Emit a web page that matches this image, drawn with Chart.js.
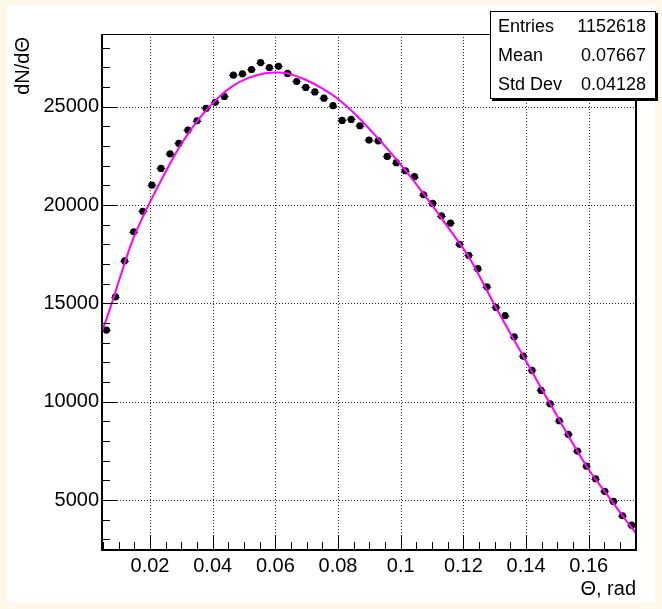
<!DOCTYPE html>
<html><head><meta charset="utf-8">
<script src="https://cdn.jsdelivr.net/npm/chart.js@4/dist/chart.umd.min.js"></script>
<style>
html,body{margin:0;padding:0;background:#fdf8e9;}
#wrap{position:relative;width:662px;height:609px;}
canvas{position:absolute;left:0;top:0;}
</style></head><body>
<div id="wrap"><canvas id="c" width="662" height="609"></canvas></div>
<script>
// ---- data ----
const theta = [0.0061,0.0090,0.0119,0.0148,0.0177,0.0206,0.0235,0.0264,0.0292,0.0321,
  0.0350,0.0379,0.0408,0.0437,0.0466,0.0495,0.0524,0.0553,0.0581,0.0610,
  0.0639,0.0668,0.0697,0.0726,0.0755,0.0784,0.0813,0.0842,0.0870,0.0899,
  0.0928,0.0957,0.0986,0.1015,0.1044,0.1073,0.1102,0.1130,0.1159,0.1188,
  0.1217,0.1246,0.1275,0.1304,0.1333,0.1362,0.1391,0.1419,0.1448,0.1477,
  0.1506,0.1535,0.1564,0.1593,0.1622,0.1651,0.1679,0.1708,0.1737];
const counts = [13640,15330,17160,18640,19680,21010,21860,22600,23130,23810,
  24280,24910,25220,25520,26600,26670,26890,27240,26990,27050,
  26690,26280,25980,25750,25430,25050,24300,24350,24030,23300,
  23260,22470,22150,21740,21440,20520,20080,19450,19080,18000,
  17440,16760,15840,14790,14370,13300,12320,11590,10570,9890,
  9030,8340,7490,6720,6080,5440,4930,4200,3720];
const fitTheta = [0.0047,0.0078,0.0104,0.0147,0.0198,0.0253,0.0306,0.0360,0.0418,0.0461,
  0.0514,0.0567,0.0604,0.0641,0.0695,0.0748,0.0801,0.0860,0.0913,0.0966,
  0.1019,0.1072,0.1126,0.1179,0.1221,0.1304,0.1391,0.1477,0.1593,0.1651,
  0.1708,0.1751];
const fitValues = [13560,15000,16300,18300,20080,21780,23250,24450,25460,26020,
  26460,26700,26740,26680,26380,25940,25380,24540,23640,22700,
  21680,20590,19420,18250,17270,14790,12320,9890,6720,5440,
  4200,3300];
const xTicks = [0.02,0.04,0.06,0.08,0.1,0.12,0.14,0.16];
const yTicks = [5000,10000,15000,20000,25000];
const xMinor = [0.005,0.01,0.015,0.02,0.025,0.03,0.035,0.04,0.045,0.05,0.055,0.06,0.065,0.07,0.075,0.08,0.085,0.09,0.095,0.1,0.105,0.11,0.115,0.12,0.125,0.13,0.135,0.14,0.145,0.15,0.155,0.16,0.165,0.17];
const yMinor = [3000,4000,5000,6000,7000,8000,9000,10000,11000,12000,13000,14000,15000,16000,17000,18000,19000,20000,21000,22000,23000,24000,25000,26000,27000,28000];
const xRange = [0.00468, 0.17509];
const yRange = [2458, 28694];
const statsLabels = ["Entries","Mean","Std Dev"];
const statsValues = ["1152618","0.07667","0.04128"];
const xTitle = "\u0398, rad";
const yTitle = "dN/d\u0398";

const FONT = "'Liberation Sans', Arial, Helvetica, sans-serif";

function line(ctx,x1,y1,x2,y2){ctx.beginPath();ctx.moveTo(x1,y1);ctx.lineTo(x2,y2);ctx.stroke();}

const rootPlugin = {
  id:'rootStyle',
  beforeDraw(chart){
    const ctx = chart.ctx; ctx.save();
    ctx.fillStyle = '#ffffff'; ctx.fillRect(7,5,648,597);
    ctx.restore();
  },
  beforeDatasetsDraw(chart){
    const {ctx, chartArea:a, scales:{x,y}} = chart;
    ctx.save();
    ctx.strokeStyle = 'rgba(0,0,0,0.85)'; ctx.lineWidth = 1; ctx.setLineDash([1,2]);
    xTicks.forEach(v=>{const p=Math.round(x.getPixelForValue(v))+0.5; line(ctx,p,a.top,p,a.bottom);});
    yTicks.forEach(v=>{const p=Math.round(y.getPixelForValue(v))+0.5; line(ctx,a.left,p,a.right,p);});
    ctx.setLineDash([]);
    // horizontal (bin width) error bars
    const half = (theta[1]-theta[0])/2;
    ctx.strokeStyle = 'rgba(50,50,190,0.9)'; ctx.lineWidth = 1;
    theta.forEach((t,i)=>{
      const py = Math.round(y.getPixelForValue(counts[i]))+0.5;
      line(ctx, x.getPixelForValue(t-half), py, x.getPixelForValue(t+half), py);
    });
    ctx.restore();
  },
  afterDatasetsDraw(chart){
    const {ctx, chartArea:a, scales:{x,y}} = chart;
    ctx.save();
    ctx.strokeStyle = '#000'; ctx.lineWidth = 1;
    xMinor.forEach(v=>{const p=Math.round(x.getPixelForValue(v))+0.5; if(p>a.left+1&&p<a.right-1) line(ctx,p,a.bottom,p,a.bottom-8);});
    xTicks.forEach(v=>{const p=Math.round(x.getPixelForValue(v))+0.5; line(ctx,p,a.bottom,p,a.bottom-15);});
    yMinor.forEach(v=>{const p=Math.round(y.getPixelForValue(v))+0.5; if(p>a.top+1&&p<a.bottom-1) line(ctx,a.left,p,a.left+8,p);});
    yTicks.forEach(v=>{const p=Math.round(y.getPixelForValue(v))+0.5; line(ctx,a.left,p,a.left+15,p);});
    ctx.lineWidth = 1; ctx.strokeRect(a.left+0.5, a.top+0.5, a.right-a.left-1, a.bottom-a.top-1);
    ctx.lineWidth = 2;
    line(ctx, a.left, a.top, a.left, a.bottom+1);
    line(ctx, a.left-1, a.bottom, a.right+1, a.bottom);
    line(ctx, a.right, a.top, a.right, a.bottom+1);
    ctx.restore();
  },
  afterDraw(chart){
    const {ctx, chartArea:a} = chart;
    ctx.save();
    ctx.fillStyle = '#000';
    ctx.font = '20px ' + FONT;
    ctx.textAlign = 'right'; ctx.textBaseline = 'middle';
    ctx.fillText(xTitle, a.right, 589);
    ctx.translate(23, a.top + 3); ctx.rotate(-Math.PI/2);
    ctx.textAlign = 'right'; ctx.textBaseline = 'middle';
    ctx.fillText(yTitle, 0, 0);
    ctx.restore();
    ctx.save();
    const bx=490, by=11, bw=166, bh=88;
    ctx.fillStyle = '#000'; ctx.fillRect(bx+2, by+2, bw, bh);
    ctx.fillStyle = '#fff'; ctx.fillRect(bx, by, bw, bh);
    ctx.strokeStyle = '#000'; ctx.lineWidth = 1; ctx.strokeRect(bx+0.5, by+0.5, bw-1, bh-1);
    ctx.fillStyle = '#000'; ctx.font = '18px ' + FONT; ctx.textBaseline = 'middle';
    statsLabels.forEach((s,i)=>{
      const cy = by + bh*(i+0.5)/3 + 1;
      ctx.textAlign = 'left'; ctx.fillText(s, bx+8, cy);
      ctx.textAlign = 'right'; ctx.fillText(statsValues[i], bx+bw-10, cy);
    });
    ctx.restore();
  }
};

new Chart(document.getElementById('c'), {
  type: 'scatter',
  data: {
    datasets: [
      { label:'data', data: theta.map((t,i)=>({x:t, y:counts[i]})), showLine:false,
        pointRadius:3.6, pointBackgroundColor:'#000', pointBorderWidth:0, pointStyle:'circle', order:1 },
      { label:'fit', data: fitTheta.map((t,i)=>({x:t, y:fitValues[i]})), showLine:true,
        borderColor:'#ff00ff', borderWidth:2, pointRadius:0, tension:0.4, fill:false, order:0 }
    ]
  },
  options: {
    responsive:false, animation:false, devicePixelRatio:1,
    layout:{ padding:{ left:0, right:26, top:34, bottom:0 } },
    plugins:{ legend:{display:false}, tooltip:{enabled:false} },
    scales:{
      x:{ type:'linear', min:xRange[0], max:xRange[1],
        grid:{display:false, drawTicks:false}, border:{display:false},
        afterBuildTicks: s=>{ s.ticks = xTicks.map(v=>({value:v})); },
        afterFit: s=>{ s.height = 59; },
        ticks:{ autoSkip:false, maxRotation:0, padding:4, color:'#000', font:{family:FONT, size:20},
          callback: v=>String(Number(v.toFixed(2))) } },
      y:{ type:'linear', min:yRange[0], max:yRange[1],
        grid:{display:false, drawTicks:false}, border:{display:false},
        afterBuildTicks: s=>{ s.ticks = yTicks.map(v=>({value:v})); },
        afterFit: s=>{ s.width = 102; },
        ticks:{ autoSkip:false, padding:3, color:'#000', font:{family:FONT, size:20},
          callback: v=>String(v) } }
    }
  },
  plugins:[rootPlugin]
});
</script>
</body></html>
